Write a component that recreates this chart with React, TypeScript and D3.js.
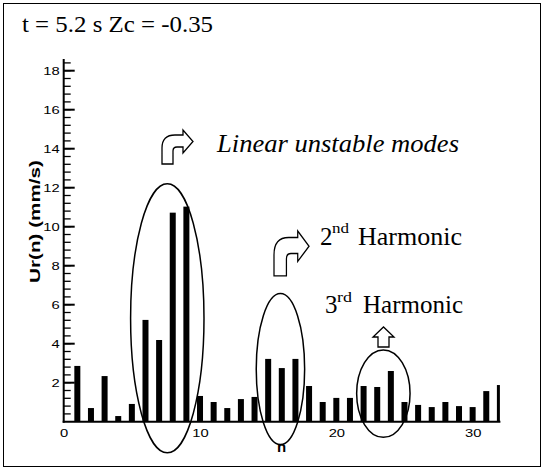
import React from "react";
import * as d3 from "d3";

const modes = d3.range(1, 33);
const amplitudes = [
  2.86, 0.7, 2.34, 0.29, 0.91, 5.22, 4.19, 10.72, 11.03, 1.32,
  1.01, 0.7, 1.16, 1.27, 3.22, 2.75, 3.22, 1.83, 1.01, 1.22,
  1.22, 1.83, 1.78, 2.6, 1.01, 0.86, 0.75, 1.01, 0.8, 0.75,
  1.57, 1.88,
];
const yMajorTicks = [2, 4, 6, 8, 10, 12, 14, 16, 18];
const xTicks = [0, 10, 20, 30];
const title = "t = 5.2 s Zc = -0.35";
const yLabel = "Ur(n) (mm/s)";
const xLabel = "n";
const groups = [
  { cx: 7.6, cy: 5.3, rx: 36.7, ry: 134.5 },
  { cx: 15.9, cy: 2.7, rx: 24.2, ry: 75.5 },
  { cx: 23.45, cy: 1.44, rx: 26.7, ry: 43.7 },
];

const W = 547;
const H = 475;

const x = d3.scaleLinear().domain([0, 32]).range([63.7, 499.9]);
const y = d3.scaleLinear().domain([0, 18.6]).range([421.7, 59]);

const curvedArrow =
  "M0,34 L0,18 Q0,5 13,5 L21,5 L21,0 L31,11.5 L21,23 L21,17 L15,17 Q11,17 11,21 L11,34 Z";
const upArrow = "M5,20 L5,10 L0,10 L10.5,0 L21,10 L16,10 L16,20 Z";

export default function App() {
  const minor = d3.range(1, 47).map((i) => i * 0.4).filter((v) => v <= 18.5);
  const sans = "'Liberation Sans', Arial, sans-serif";
  const serif = "'Liberation Serif', 'Times New Roman', serif";
  const digitW = 8.2;
  return (
    <svg
      width={W}
      height={H}
      style={{ position: "absolute", left: 0, top: 0, background: "#fff" }}
    >
      <rect x={3.5} y={3.5} width={537} height={463} fill="none" stroke="#000" strokeWidth={1} />
      <defs>
        <clipPath id="plotclip">
          <rect x={x(0)} y={0} width={x(32) - x(0)} height={H} />
        </clipPath>
      </defs>
      <text x={22} y={31.5} fontFamily={serif} fontSize={23} textLength={191} lengthAdjust="spacingAndGlyphs">
        {title}
      </text>

      {/* bars */}
      <g clipPath="url(#plotclip)">
        {modes.map((n, i) => (
          <rect
            key={n}
            x={x(n) - 3}
            y={y(amplitudes[i])}
            width={6}
            height={y(0) - y(amplitudes[i])}
            fill="#000"
          />
        ))}
      </g>

      {/* axes */}
      <line x1={x(0)} x2={x(0)} y1={y(18.6)} y2={y(0) + 1} stroke="#000" strokeWidth={2} />
      <line x1={x(0) - 1} x2={x(32) + 0.5} y1={y(0)} y2={y(0)} stroke="#000" strokeWidth={2} />
      {minor.map((v) => (
        <line key={"m" + v} x1={x(0)} x2={x(0) + 7} y1={y(v)} y2={y(v)} stroke="#000" strokeWidth={1.3} />
      ))}
      {yMajorTicks.map((v) => (
        <g key={"M" + v}>
          <line x1={x(0)} x2={x(0) + 11} y1={y(v)} y2={y(v)} stroke="#000" strokeWidth={2} />
          <text
            x={x(0) - 4}
            y={y(v) + 4.2}
            textAnchor="end"
            fontFamily={sans}
            fontSize={11.8}
            textLength={digitW * String(v).length}
            lengthAdjust="spacingAndGlyphs"
          >
            {v}
          </text>
        </g>
      ))}
      {xTicks.map((v) => (
        <text
          key={"x" + v}
          x={x(v) + 0.5}
          y={436.5}
          textAnchor="middle"
          fontFamily={sans}
          fontSize={11.8}
          textLength={digitW * String(v).length}
          lengthAdjust="spacingAndGlyphs"
        >
          {v}
        </text>
      ))}
      <text
        transform={`translate(40,221.5) rotate(-90)`}
        textAnchor="middle"
        fontFamily={sans}
        fontSize={15}
        fontWeight="bold"
        textLength={123}
        lengthAdjust="spacingAndGlyphs"
      >
        {yLabel}
      </text>
      <text x={281.7} y={451.5} textAnchor="middle" fontFamily={sans} fontSize={15} fontWeight="bold">
        {xLabel}
      </text>

      {/* ellipses */}
      {groups.map((g, i) => (
        <ellipse
          key={i}
          cx={x(g.cx)}
          cy={y(g.cy)}
          rx={g.rx}
          ry={g.ry}
          fill="none"
          stroke="#000"
          strokeWidth={1.5}
        />
      ))}

      {/* arrows */}
      <path d={curvedArrow} transform="translate(162,130)" fill="#fff" stroke="#000" strokeWidth={1.3} />
      <path d={curvedArrow} transform="translate(274,231) scale(1.13,1.32)" fill="#fff" stroke="#000" strokeWidth={1.1} />
      <path d={upArrow} transform="translate(373,327)" fill="#fff" stroke="#000" strokeWidth={1.3} />

      {/* annotations */}
      <text x={217} y={151.5} fontFamily={serif} fontSize={25} fontStyle="italic" textLength={242} lengthAdjust="spacingAndGlyphs">
        Linear unstable modes
      </text>
      <text x={320} y={245} fontFamily={serif} fontSize={25}>2</text>
      <text x={332} y={233} fontFamily={serif} fontSize={15} textLength={17} lengthAdjust="spacingAndGlyphs">nd</text>
      <text x={358} y={245} fontFamily={serif} fontSize={25} textLength={104} lengthAdjust="spacingAndGlyphs">Harmonic</text>
      <text x={325} y={313.3} fontFamily={serif} fontSize={25}>3</text>
      <text x={337} y={301.5} fontFamily={serif} fontSize={15} textLength={15} lengthAdjust="spacingAndGlyphs">rd</text>
      <text x={363} y={313.3} fontFamily={serif} fontSize={25} textLength={100} lengthAdjust="spacingAndGlyphs">Harmonic</text>
    </svg>
  );
}
